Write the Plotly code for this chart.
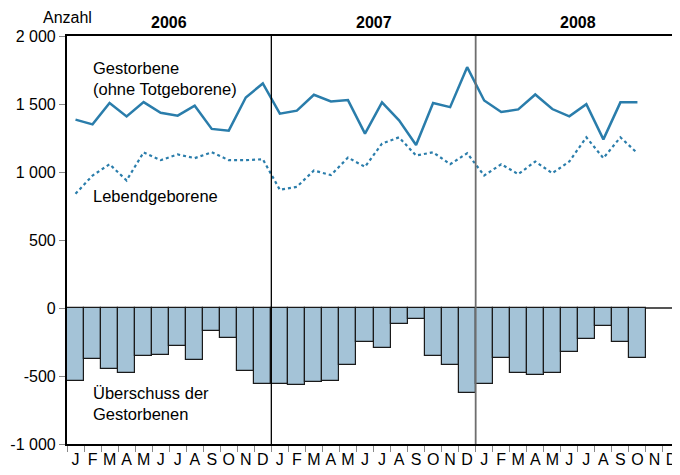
import numpy as np
import plotly.graph_objects as go

months = ["J", "F", "M", "A", "M", "J", "J", "A", "S", "O", "N", "D"] * 3
years = ["2006", "2007", "2008"]

gestorbene = [1385, 1350, 1507, 1409, 1514, 1436, 1414, 1487, 1317, 1304, 1548, 1651,
              1429, 1451, 1568, 1519, 1529, 1282, 1512, 1380, 1199, 1507, 1477, 1771,
              1526, 1441, 1460, 1570, 1463, 1409, 1499, 1240, 1512, 1512, None, None]
lebend = [840, 974, 1057, 938, 1145, 1087, 1129, 1102, 1145, 1087, 1087, 1094,
          869, 891, 1011, 977, 1106, 1038, 1209, 1255, 1121, 1145, 1057, 1138,
          974, 1057, 984, 1077, 991, 1077, 1255, 1102, 1255, 1138, None, None]
ueberschuss = [-537, -376, -447, -476, -354, -344, -278, -381, -168, -217, -461, -557,
               -557, -566, -542, -537, -420, -251, -295, -115, -83, -354, -420, -625,
               -562, -371, -479, -493, -476, -325, -230, -134, -249, -371, None, None]

ytick_vals = [-1000, -500, 0, 500, 1000, 1500, 2000]
ytick_text = ["-1 000", "-500", "0", "500", "1 000", "1 500", "2 000"]

x = np.arange(len(months)) + 0.5
line_col = "#2a7dab"
font = "Liberation Sans, Arial, Helvetica, sans-serif"
fs = 16.5
fst = 16

fig = go.Figure()
fig.add_trace(go.Bar(x=x, y=ueberschuss, width=1,
                     marker=dict(color="#a4c3d7", line=dict(color="#1a1a1a", width=1.2)),
                     showlegend=False))
fig.add_trace(go.Scatter(x=x, y=gestorbene, mode="lines",
                         line=dict(color=line_col, width=2.5), showlegend=False))
fig.add_trace(go.Scatter(x=x, y=lebend, mode="lines",
                         line=dict(color=line_col, width=2.2, dash="dot"), showlegend=False))

# year separators
fig.add_shape(type="line", x0=12, x1=12, y0=-1000, y1=2000, xref="x", yref="y",
              line=dict(color="#000000", width=1.3))
fig.add_shape(type="line", x0=24, x1=24, y0=-1000, y1=2000, xref="x", yref="y",
              line=dict(color="#6e6e6e", width=1.8))

annotations = []
for i, yr in enumerate(years):
    annotations.append(dict(x=12 * i + 6, y=1.0, xref="x", yref="paper", yshift=3,
                            text="<b>" + yr + "</b>", showarrow=False,
                            xanchor="center", yanchor="bottom",
                            font=dict(size=fst, color="black", family=font)))
annotations += [
    dict(x=0, y=1.0, xref="paper", yref="paper", yshift=8, text="Anzahl",
         showarrow=False, xanchor="center", yanchor="bottom",
         font=dict(size=fst, color="black", family=font)),
    dict(x=1.4, y=1690, xref="x", yref="y", text="Gestorbene<br>(ohne Totgeborene)",
         showarrow=False, xanchor="left", yanchor="middle", align="left",
         font=dict(size=fs, color="black", family=font)),
    dict(x=1.4, y=823, xref="x", yref="y", text="Lebendgeborene",
         showarrow=False, xanchor="left", yanchor="middle", align="left",
         font=dict(size=fs, color="black", family=font)),
    dict(x=1.4, y=-705, xref="x", yref="y", text="Überschuss der<br>Gestorbenen",
         showarrow=False, xanchor="left", yanchor="middle", align="left",
         font=dict(size=fs, color="black", family=font)),
]

# the page body has an 8 px default margin, so the figure is sized to fit the window
fig.update_layout(
    width=672, height=467,
    margin=dict(l=59, r=0, t=28, b=31, autoexpand=False),
    plot_bgcolor="white", paper_bgcolor="white",
    font=dict(family=font, size=fst, color="black"),
    bargap=0,
    annotations=annotations,
    xaxis=dict(range=[0, 36], tickmode="array", tickvals=list(x), ticktext=months,
               ticks="", showgrid=False, zeroline=False, automargin=False,
               showline=True, linecolor="black", linewidth=2.2, mirror=True,
               tickfont=dict(size=fst, color="black", family=font),
               minor=dict(tickmode="linear", tick0=0, dtick=1, ticks="outside",
                          ticklen=6, tickcolor="#888888", tickwidth=1.2, showgrid=False)),
    yaxis=dict(range=[-1000, 2000], tickmode="array", tickvals=ytick_vals,
               ticktext=ytick_text, ticks="outside", ticklen=6, tickcolor="#888888",
               tickwidth=1.2, showgrid=False, automargin=False,
               showline=True, linecolor="black", linewidth=2.2,
               zeroline=True, zerolinecolor="#555555", zerolinewidth=1.5,
               tickfont=dict(size=fst, color="black", family=font)),
)

fig.write_html("out.html")
